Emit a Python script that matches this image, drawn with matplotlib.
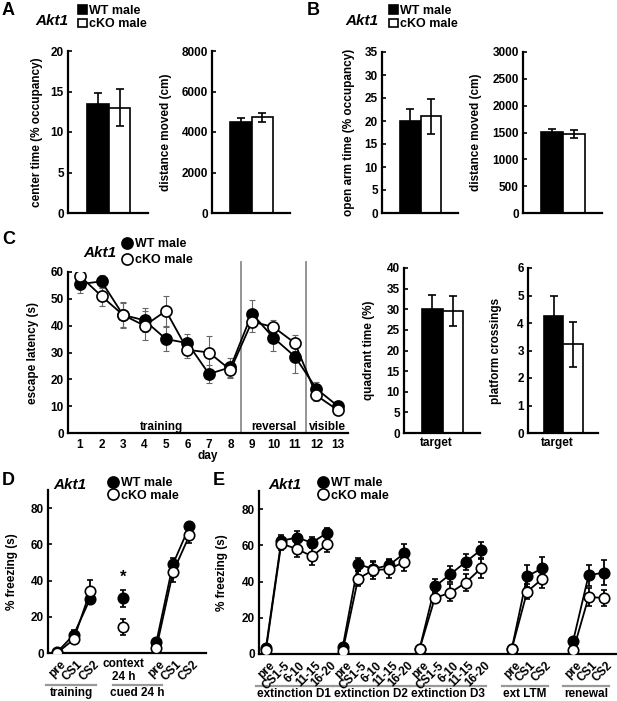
import matplotlib
matplotlib.use("Agg")
import matplotlib.pyplot as plt
from matplotlib.lines import Line2D
import numpy as np

plt.rcParams['font.family'] = ['Liberation Sans', 'DejaVu Sans']
plt.rcParams['font.weight'] = 'bold'
plt.rcParams['axes.labelweight'] = 'bold'
plt.rcParams['font.size'] = 8.5

W, H = 617, 701

# ---------------- data ----------------
groups = ['WT male', 'cKO male']

# A: open field
of_center = [13.5, 13.0]
of_center_err = [1.3, 2.3]
of_dist = [4500, 4720]
of_dist_err = [180, 220]

# B: elevated plus maze
epm_open = [20.0, 21.0]
epm_open_err = [2.7, 3.8]
epm_dist = [1510, 1470]
epm_dist_err = [55, 75]

# C: water maze
days = np.arange(1, 14)
mwm_wt = [55.5, 56.5, 44, 42, 35, 33.5, 22, 24.5, 44.5, 35.5, 28.5, 16.5, 10]
mwm_wt_err = [3.5, 2.5, 4.5, 4.5, 4.5, 3.5, 3.5, 3.5, 5, 5, 6, 2.5, 1.5]
mwm_ko = [58.5, 51, 44, 40, 45.5, 31, 30, 23.5, 41.5, 39.5, 33.5, 14, 8.5]
mwm_ko_err = [1, 3.5, 5, 5.5, 5.5, 3, 6, 3, 4, 2.5, 3, 2, 1]
phase_names = ['training', 'reversal', 'visible']
phase_label_x = [4.8, 10, 12.5]
phase_bounds = [8.5, 11.5]

probe_quad = [30.0, 29.6]
probe_quad_err = [3.4, 3.7]
probe_cross = [4.26, 3.23]
probe_cross_err = [0.74, 0.82]

# D: fear conditioning
fc_labels = ['pre', 'CS1', 'CS2', 'context\n24 h', 'pre', 'CS1', 'CS2']
fc_x = [0, 1, 2, 4, 6, 7, 8]
fc_wt = [0.5, 10, 30, 30.3, 6, 49, 70]
fc_wt_err = [0.5, 2.8, 3, 4.7, 1, 3.4, 2]
fc_ko = [0, 7.5, 34, 14.3, 2.8, 44.5, 65]
fc_ko_err = [0.5, 2, 6.5, 4.3, 0.8, 5.5, 4.3]
fc_segments = [(0, 3), (3, 4), (4, 7)]
fc_groups = [('training', 0, 2), ('cued 24 h', 4, 6)]

# E: extinction
ext_labels = (['pre', 'CS1-5', '6-10', '11-15', '16-20'] * 3
              + ['pre', 'CS1', 'CS2'] * 2)
ext_x = list(range(15)) + [16, 17, 18, 20, 21, 22]
ext_wt = [3.3, 62.5, 64.3, 61.5, 67,
          3.9, 49.5, 47, 49, 55.5,
          2.8, 37.3, 44, 50.8, 57.5,
          2.8, 43, 47.3,
          7.4, 43.4, 45]
ext_wt_err = [0.8, 3, 3.5, 3, 2.5,
              0.8, 3.5, 4, 3.5, 5,
              0.5, 4, 4.5, 4.5, 4.5,
              0.5, 6, 6.5,
              1.5, 6, 6.8]
ext_ko = [2, 61, 58, 54, 60.6,
          1.8, 41.6, 46.4, 46.8, 50.8,
          2.8, 31, 33.8, 39.4, 47.3,
          2.8, 34.4, 41.6,
          2, 31.4, 31]
ext_ko_err = [0.5, 3.5, 4.5, 5, 4.5,
              0.5, 4, 5, 5, 5,
              0.5, 3, 4.8, 4.8, 5.3,
              0.5, 4.3, 5,
              0.5, 5, 4.5]
ext_segments = [(0, 5), (5, 10), (10, 15), (15, 18), (18, 21)]
ext_groups = [('extinction D1', 0, 4), ('extinction D2', 5, 9),
              ('extinction D3', 10, 14), ('ext LTM', 16, 18),
              ('renewal', 20, 22)]

# ---------------- figure ----------------
fig = plt.figure(figsize=(W / 100, H / 100), dpi=100)


def add_ax(x0, ytop, x1, ybot):
    return fig.add_axes([x0 / W, 1 - ybot / H, (x1 - x0) / W, (ybot - ytop) / H])


def style(ax, ylim, step, ylabel, label_x):
    for s in ['top', 'right']:
        ax.spines[s].set_visible(False)
    for s in ['left', 'bottom']:
        ax.spines[s].set_linewidth(1.6)
    ax.set_ylim(*ylim)
    ax.set_yticks(np.arange(0, ylim[1] + step * 0.01, step))
    ax.tick_params(axis='y', direction='in', length=3, width=1.2, pad=3, labelsize=8.5)
    ax.tick_params(axis='x', length=0, labelsize=8.5)
    ax.set_ylabel(ylabel, fontsize=8.5)
    ax.yaxis.set_label_coords(label_x, 0.5)


def bar_panel(ax, means, errs, ylim, step, ylabel, label_x, xlabel=None):
    bars = ax.bar([0, 1], means, width=1, color=['black', 'white'],
                  edgecolor='black', linewidth=1.2, zorder=2)
    ax.errorbar([0, 1], means, yerr=errs, fmt='none', ecolor='black',
                elinewidth=1.2, capsize=3, capthick=1.2, zorder=3)
    ax.set_xlim(-1.35, 2.3)
    style(ax, ylim, step, ylabel, label_x)
    if xlabel:
        ax.set_xticks([0.2])
        ax.set_xticklabels([xlabel])
        ax.tick_params(axis='x', pad=3)
    else:
        ax.set_xticks([])
    return bars


def panel_text(letter, x, y, akt_x, akt_y):
    fig.text(x / W, 1 - y / H, letter, fontsize=13, fontweight='bold', va='top')
    fig.text(akt_x / W, 1 - akt_y / H, 'Akt1', fontsize=11, fontweight='bold',
             fontstyle='italic', va='center')


circle_handles = [
    Line2D([], [], marker='o', ls='none', mfc='black', mec='black', ms=8, mew=1.2),
    Line2D([], [], marker='o', ls='none', mfc='white', mec='black', ms=8, mew=1.2),
]


def circle_legend(x, y, spacing):
    fig.legend(circle_handles, groups, loc='upper left',
               bbox_to_anchor=(x / W, 1 - y / H), frameon=False, fontsize=9,
               handlelength=0.9, handletextpad=0.2, labelspacing=spacing,
               borderpad=0, borderaxespad=0)


# ---- A ----
axA1 = add_ax(68, 51, 148, 213)
barsA = bar_panel(axA1, of_center, of_center_err, (0, 20), 5,
                  'center time (% occupancy)', -0.31)
axA2 = add_ax(212, 51, 290, 213)
bar_panel(axA2, of_dist, of_dist_err, (0, 8000), 2000, 'distance moved (cm)', -0.51)
panel_text('A', 2, 2, 35, 21)
fig.legend(barsA, groups, loc='upper left', bbox_to_anchor=(78 / W, 1 - 5 / H),
           frameon=False, fontsize=9, handlelength=0.7, handleheight=0.7,
           handletextpad=0.2, labelspacing=0.1, borderpad=0, borderaxespad=0)

# ---- B ----
axB1 = add_ax(382, 52, 458, 213)
barsB = bar_panel(axB1, epm_open, epm_open_err, (0, 35), 5,
                  'open arm time (% occupancy)', -0.355)
axB2 = add_ax(523, 52, 602, 213)
bar_panel(axB2, epm_dist, epm_dist_err, (0, 3000), 500, 'distance moved (cm)', -0.52)
panel_text('B', 307, 2, 345, 21)
fig.legend(barsB, groups, loc='upper left', bbox_to_anchor=(389 / W, 1 - 5 / H),
           frameon=False, fontsize=9, handlelength=0.7, handleheight=0.7,
           handletextpad=0.2, labelspacing=0.1, borderpad=0, borderaxespad=0)

# ---- C ----
axC1 = add_ax(68, 272, 348, 433)
style(axC1, (0, 60), 10, 'escape latency (s)', -0.104)
axC1.set_xlim(0.44, 13.47)
for b in phase_bounds:
    axC1.axvline(b, ymin=0, ymax=1.06, color='#8c8c8c', lw=1.3, clip_on=False, zorder=1)
axC1.errorbar(days, mwm_wt, yerr=mwm_wt_err, fmt='none', ecolor='#666666',
              elinewidth=0.8, capsize=2.5, capthick=0.8, zorder=2)
axC1.errorbar(days, mwm_ko, yerr=mwm_ko_err, fmt='none', ecolor='#666666',
              elinewidth=0.8, capsize=2.5, capthick=0.8, zorder=2)
axC1.plot(days, mwm_wt, '-o', color='black', lw=1.3, ms=8, mfc='black',
          mec='black', mew=1.2, zorder=3)
axC1.plot(days, mwm_ko, '-o', color='black', lw=1.3, ms=8, mfc='white',
          mec='black', mew=1.2, zorder=4)
axC1.set_xticks(days)
axC1.tick_params(axis='x', pad=4)
axC1.set_xlabel('day', fontsize=8.5)
axC1.xaxis.set_label_coords(0.5, -0.105)
for name, px in zip(phase_names, phase_label_x):
    axC1.text(px, 1.2, name, ha='center', va='baseline', fontsize=8.5)
panel_text('C', 2, 231, 83, 253)
circle_legend(121, 238, 0.35)

axC2 = add_ax(404, 268, 480, 433)
bar_panel(axC2, probe_quad, probe_quad_err, (0, 40), 5, 'quadrant time (%)', -0.38,
          'target')
axC3 = add_ax(528, 268, 598, 433)
bar_panel(axC3, probe_cross, probe_cross_err, (0, 6), 1, 'platform crossings', -0.37,
          'target')


# ---- D / E ----
def freezing_panel(ax, xs, labels, wt, wt_err, ko, ko_err, segments, group_list,
                   xlim, label_x):
    style(ax, (0, 90), 20, '% freezing (s)', label_x)
    ax.set_yticks(np.arange(0, 81, 20))
    ax.set_xlim(*xlim)
    ax.set_xticks([])
    xs = np.asarray(xs, dtype=float)
    for a, b in segments:
        ax.errorbar(xs[a:b], wt[a:b], yerr=wt_err[a:b], fmt='-o', color='black',
                    lw=1.3, ms=7.5, mfc='black', mec='black', mew=1.2,
                    elinewidth=1.3, capsize=2.5, capthick=1.3, zorder=3)
        ax.errorbar(xs[a:b], ko[a:b], yerr=ko_err[a:b], fmt='-o', color='black',
                    lw=1.3, ms=7.5, mfc='white', mec='black', mew=1.2,
                    elinewidth=1.3, capsize=2.5, capthick=1.3, zorder=4)
    for x, lbl in zip(xs, labels):
        if '\n' in lbl:
            ax.annotate(lbl, xy=(x, 0), xycoords=('data', 'axes fraction'),
                        xytext=(0, -3.5), textcoords='offset points',
                        ha='center', va='top', fontsize=8.5, linespacing=1.15)
        else:
            ax.annotate(lbl, xy=(x, 0), xycoords=('data', 'axes fraction'),
                        xytext=(2, -4), textcoords='offset points',
                        rotation=45, rotation_mode='anchor',
                        ha='right', va='top', fontsize=8.5)
    tr = ax.get_xaxis_transform()
    for name, a, b in group_list:
        ax.plot([a - 0.65, b + 0.35], [-0.195, -0.195], transform=tr,
                color='#999999', lw=1.6, clip_on=False)
        ax.text((a - 0.65 + b + 0.35) / 2, -0.21, name, transform=tr,
                ha='center', va='top', fontsize=8.5)


axD = add_ax(48, 490, 206, 653)
freezing_panel(axD, fc_x, fc_labels, fc_wt, fc_wt_err, fc_ko, fc_ko_err,
               fc_segments, fc_groups, (-0.55, 9.0), -0.19)
axD.text(fc_x[3], fc_wt[3] + fc_wt_err[3] + 7, '*', ha='center', va='center',
         fontsize=12)
panel_text('D', 2, 472, 53, 485)
circle_legend(107, 477, 0.05)

axE = add_ax(259, 491, 617, 654)
freezing_panel(axE, ext_x, ext_labels, ext_wt, ext_wt_err, ext_ko, ext_ko_err,
               ext_segments, ext_groups, (-0.45, 22.85), -0.087)
panel_text('E', 213, 472, 268, 485)
circle_legend(317, 477, 0.05)

fig.savefig('out.png', dpi=100)
